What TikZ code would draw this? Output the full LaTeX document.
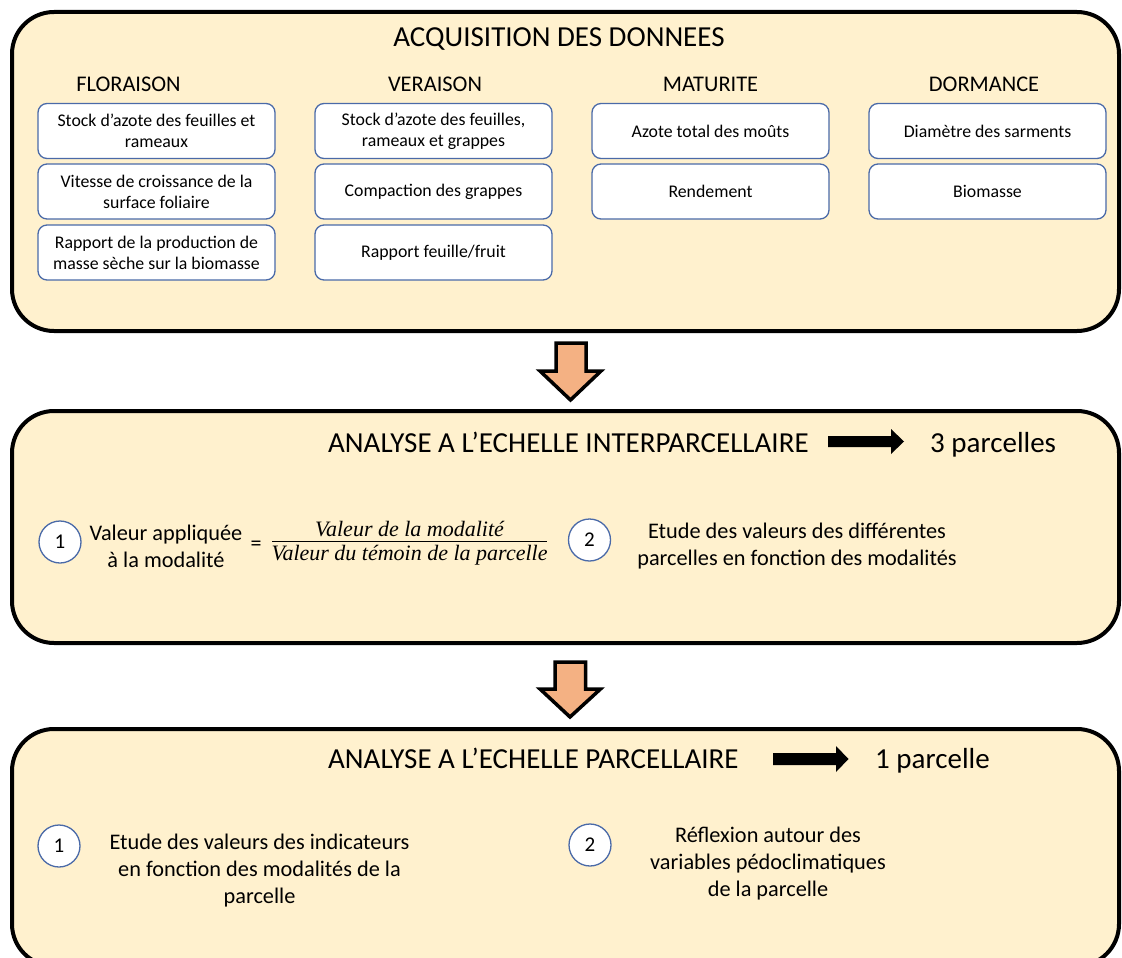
\documentclass[tikz,border=0pt]{standalone}
\usepackage{fontspec}
\setmainfont{Carlito}
\newfontfamily\formfont{Liberation Serif}
\definecolor{panel}{HTML}{FFF1CE}
\definecolor{orangearrow}{HTML}{F4B183}
\definecolor{boxblue}{HTML}{4A6AA8}
\begin{document}
\begin{tikzpicture}[x=1pt,y=-1pt,
  panelbox/.style={draw=black, line width=4pt, fill=panel, rounded corners=42pt},
  itembox/.style={draw=boxblue, line width=1.3pt, fill=white, rounded corners=9pt,
    minimum width=237pt, minimum height=55pt, align=center, inner sep=2pt,
    font=\fontsize{17.8}{21}\selectfont},
  colhead/.style={font=\fontsize{22.4}{26}\selectfont},
  bigtitle/.style={font=\fontsize{29}{34}\selectfont, inner sep=0pt},
  bodytext/.style={align=center, font=\fontsize{22.3}{27}\selectfont},
  numcircle/.style={circle, draw=boxblue, line width=1.3pt, fill=white,
    minimum size=42pt, inner sep=0pt, font=\fontsize{21}{24}\selectfont},
  blockarrow/.style={draw=black, line width=3.5pt, fill=orangearrow, line join=miter},
  blackarrow/.style={fill=black, draw=none},
  formtext/.style={font=\formfont\itshape\fontsize{22}{25}\selectfont, inner sep=1pt}
]
\useasboundingbox (0,0) rectangle (1122,958);
\begin{scope}
\clip (0,0) rectangle (1122,958);
% panels
\draw[panelbox] (12,12) rectangle (1119,331);
\draw[panelbox] (12,411) rectangle (1119,643);
\draw[panelbox] (12,729) rectangle (1119,966);
\end{scope}

% ---------- top panel ----------
\node[font=\fontsize{29}{32}\selectfont] (t1) at (559,39) {ACQUISITION DES DONNEES};
\node[colhead] (hf) at (128.5,84) {FLORAISON};
\node[colhead] (hv) at (435,84) {VERAISON};
\node[colhead] (hm) at (710.5,84) {MATURITE};
\node[colhead] (hd) at (984,84) {DORMANCE};

\node[itembox] (f1) at (156.5,131) {Stock d’azote des feuilles et\\rameaux};
\node[itembox] (f2) at (156.5,191.5) {Vitesse de croissance de la\\surface foliaire};
\node[itembox] (f3) at (156.5,252.5) {Rapport de la production de\\masse sèche sur la biomasse};
\node[itembox] (v1) at (433.5,131) {Stock d’azote des feuilles,\\rameaux et grappes};
\node[itembox] (v2) at (433.5,191.5) {Compaction des grappes};
\node[itembox] (v3) at (433.5,252.5) {Rapport feuille/fruit};
\node[itembox] (m1) at (710.5,131) {Azote total des moûts};
\node[itembox] (m2) at (710.5,191.5) {Rendement};
\node[itembox] (d1) at (987.5,131) {Diamètre des sarments};
\node[itembox] (d2) at (987.5,191.5) {Biomasse};

% ---------- orange arrows ----------
\draw[blockarrow] (556,343) -- (586,343) -- (586,371) -- (601,371) -- (570.5,400)
  -- (540,371) -- (556,371) -- cycle;
\draw[blockarrow] (555,662) -- (585.5,662) -- (585.5,689) -- (600.5,689) -- (570,717)
  -- (540,689) -- (555,689) -- cycle;

% ---------- middle panel ----------
\node[bigtitle, anchor=base west] (t2) at (328,452) {ANALYSE A L’ECHELLE INTERPARCELLAIRE};
\node[bigtitle, anchor=base west] (p3) at (930,452) {3 parcelles};
\draw[blackarrow] (828,436) -- (891,436) -- (891,429) -- (904,441.5) -- (891,454)
  -- (891,447) -- (828,447) -- cycle;

\node[numcircle] (c1) at (60,542) {1};
\node[bodytext] (va) at (166,546) {Valeur appliquée\\à la modalité};
\node[font=\fontsize{22}{24}\selectfont] (eq) at (256,546) {=};
\node[formtext] (num) at (409.5,529) {Valeur de la modalité};
\node[formtext] (den) at (409.5,555) {Valeur du témoin de la parcelle};
\draw[line width=1.6pt] (272,541.5) -- (547,541.5);
\node[numcircle] (c2) at (589.5,540) {2};
\node[bodytext] (e2) at (797,546.5) {Etude des valeurs des différentes\\parcelles en fonction des modalités};

% ---------- bottom panel ----------
\node[bigtitle, anchor=base west] (t3) at (328,768) {ANALYSE A L’ECHELLE PARCELLAIRE};
\node[bigtitle, anchor=base west] (p1) at (875,768) {1 parcelle};
\draw[blackarrow] (773,753) -- (836,753) -- (836,746) -- (848.5,759) -- (836,772)
  -- (836,765) -- (773,765) -- cycle;

\node[numcircle] (c3) at (59,846) {1};
\node[bodytext] (e3) at (259.5,871) {Etude des valeurs des indicateurs\\en fonction des modalités de la\\parcelle};
\node[numcircle] (c4) at (590,845) {2};
\node[bodytext] (r4) at (768,864) {Réflexion autour des\\variables pédoclimatiques\\de la parcelle};
\end{tikzpicture}
\end{document}
